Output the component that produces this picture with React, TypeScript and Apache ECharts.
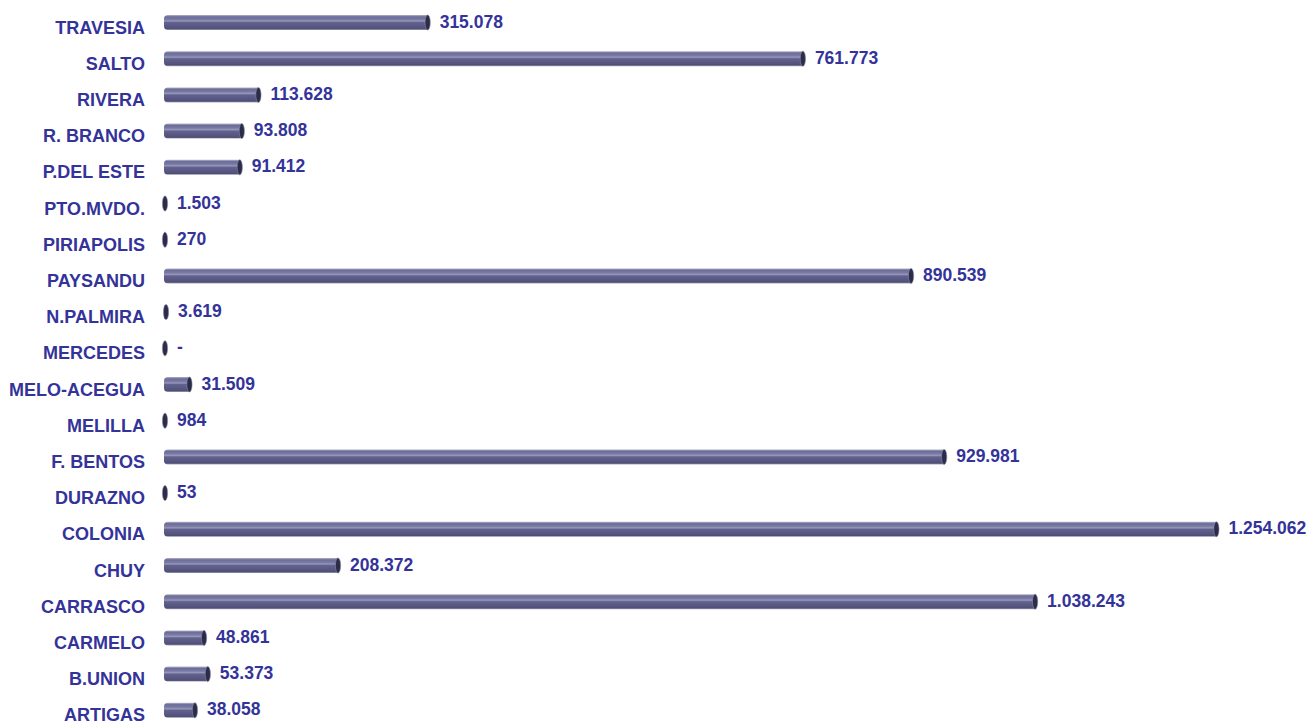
import React, { useEffect, useRef } from "react";
import * as echarts from "echarts";

const categories = [
  "TRAVESIA", "SALTO", "RIVERA", "R. BRANCO", "P.DEL ESTE", "PTO.MVDO.", "PIRIAPOLIS",
  "PAYSANDU", "N.PALMIRA", "MERCEDES", "MELO-ACEGUA", "MELILLA", "F. BENTOS", "DURAZNO",
  "COLONIA", "CHUY", "CARRASCO", "CARMELO", "B.UNION", "ARTIGAS",
];
const values = [
  315078, 761773, 113628, 93808, 91412, 1503, 270,
  890539, 3619, 0, 31509, 984, 929981, 53,
  1254062, 208372, 1038243, 48861, 53373, 38058,
];

const fmt = (v: number) =>
  v === 0 ? "-" : String(v).replace(/\B(?=(\d{3})+(?!\d))/g, ".");

const LABEL_COLOR = "#333399";
const FONT = "'Liberation Sans', Arial, sans-serif";

export default function App() {
  const ref = useRef<HTMLDivElement>(null);
  useEffect(() => {
    if (!ref.current) return;
    const chart = echarts.init(ref.current, null, { renderer: "svg" });
    const barH = 15;
    const body = new echarts.graphic.LinearGradient(0, 0, 0, 1, [
      { offset: 0, color: "#b4b4cc" },
      { offset: 0.12, color: "#6c6c98" },
      { offset: 0.3, color: "#7a7aa6" },
      { offset: 0.4, color: "#9898bc" },
      { offset: 0.5, color: "#62628e" },
      { offset: 0.8, color: "#55557f" },
      { offset: 0.92, color: "#4e4e76" },
      { offset: 1, color: "#a8a8c0" },
    ]);
    chart.setOption({
      animation: false,
      backgroundColor: "#ffffff",
      grid: {
        left: 163,
        right: 57,
        top: 4.4,
        bottom: -6.4,
        containLabel: false,
        outerBoundsMode: "none",
      },
      xAxis: {
        type: "value",
        min: 0,
        max: 1300000,
        show: false,
      },
      yAxis: {
        type: "category",
        inverse: true,
        data: categories,
        axisLine: { show: false },
        axisTick: { show: false },
        axisLabel: { show: false },
      },
      series: [
        {
          type: "custom",
          data: values.map((v, i) => [v, i]),
          encode: { x: 0, y: 1 },
          clip: false,
          renderItem: (params: any, api: any) => {
            const v = api.value(0);
            const idx = api.value(1);
            const start = api.coord([0, idx]);
            const end = api.coord([v, idx]);
            const x0 = start[0] + 1;
            const x1 = Math.max(end[0], x0 + 1);
            const cy = start[1];
            const top = cy - barH / 2;
            const children: any[] = [];
            if (v > 0) {
              children.push({
                type: "rect",
                shape: { x: x0, y: top, width: x1 - x0, height: barH, r: [4, 0, 0, 4] },
                style: { fill: body },
              });
            }
            children.push({
              type: "ellipse",
              shape: { cx: x1, cy, rx: 2.6, ry: barH / 2 },
              style: { fill: "#2c2c48", stroke: "#8c8cae", lineWidth: 0.6 },
            });
            children.push({
              type: "text",
              style: {
                x: start[0] - 18,
                y: cy + 5,
                text: categories[idx],
                fill: LABEL_COLOR,
                font: `bold 18px ${FONT}`,
                verticalAlign: "middle",
                align: "right",
              },
            });
            children.push({
              type: "text",
              style: {
                x: x1 + 12,
                y: cy - 1,
                text: fmt(v),
                fill: LABEL_COLOR,
                font: `bold 17.5px ${FONT}`,
                verticalAlign: "middle",
                align: "left",
              },
            });
            return { type: "group", children };
          },
        },
      ],
    });
    return () => chart.dispose();
  }, []);
  return (
    <div
      ref={ref}
      style={{ position: "fixed", left: 0, top: 0, width: 1312, height: 722, background: "#fff" }}
    />
  );
}
